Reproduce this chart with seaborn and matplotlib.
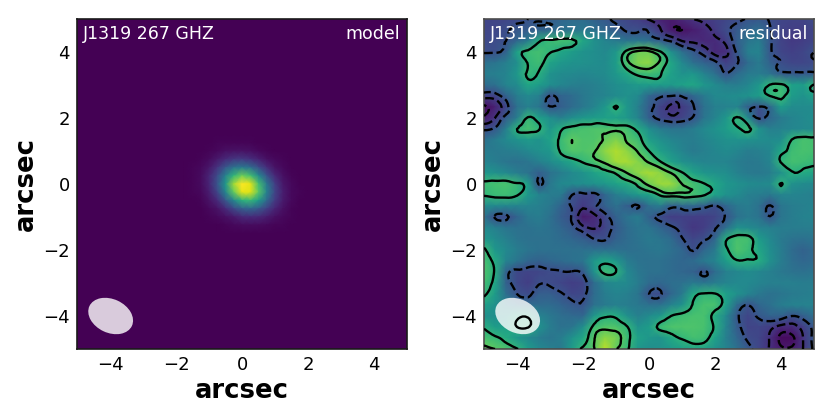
import matplotlib
matplotlib.use("Agg")
import matplotlib.pyplot as plt
from matplotlib.patches import Ellipse
from matplotlib.tri import Triangulation, UniformTriRefiner
import numpy as np
import seaborn as sns

TARGET = "J1319 267 GHZ"
TICKS = [-4, -2, 0, 2, 4]
TICK_LABELS = ["\u22124", "\u22122", "0", "2", "4"]

# model flux in percent of peak, 0.25" steps
# rows run from y=+1.25 to y=-1.25, columns from x=-1.75 to x=+1.75
MODEL_CORE = [
    [0, 0, 0, 0, 1, 1, 1, 1, 1, 0, 0, 0, 0, 0, 0],
    [0, 0, 0, 1, 2, 4, 5, 5, 4, 2, 1, 0, 0, 0, 0],
    [0, 0, 1, 3, 7, 12, 16, 17, 14, 9, 4, 2, 1, 0, 0],
    [0, 1, 2, 6, 15, 27, 38, 41, 36, 24, 13, 5, 2, 0, 0],
    [0, 1, 3, 10, 23, 44, 66, 78, 70, 48, 26, 11, 4, 1, 0],
    [0, 1, 3, 10, 26, 53, 86, 100, 96, 70, 40, 18, 6, 2, 0],
    [0, 1, 2, 8, 21, 46, 76, 96, 95, 74, 44, 20, 8, 2, 1],
    [0, 0, 1, 5, 12, 27, 46, 64, 67, 55, 34, 17, 7, 2, 0],
    [0, 0, 0, 2, 5, 12, 22, 30, 33, 28, 19, 10, 4, 1, 0],
    [0, 0, 0, 1, 2, 4, 7, 11, 12, 11, 8, 4, 2, 1, 0],
    [0, 0, 0, 0, 0, 1, 2, 3, 3, 3, 2, 1, 1, 0, 0],
]

# residual in tenths of sigma, 1/3" steps
# rows run from y=+5 to y=-5, columns from x=-5 to x=+5
RESIDUAL = [
    [-24, -25, -24, -23, -20, -18, -16, -12, -10, -10, -14, -18, -22, -24, -27, -31, -36, -38, -34, -30, -28, -26, -24, -22, -19, -18, -21, -24, -25, -25, -22],
    [-24, -24, -21, -18, -16, -14, -12, -9, -6, -5, -8, -12, -16, -21, -21, -21, -29, -38, -40, -37, -33, -28, -22, -17, -12, -9, -19, -25, -27, -27, -24],
    [-23, -22, -20, -12, -3, 18, 23, 25, 23, 14, 5, 0, -4, -6, -5, -8, -15, -21, -30, -32, -34, -33, -27, -15, -6, -3, -18, -25, -28, -27, -24],
    [-21, -21, -14, 12, 23, 25, 21, 14, 10, 6, 4, 2, 8, 24, 33, 33, 22, 5, -8, -17, -24, -34, -32, -18, -2, 0, -18, -24, -26, -24, -20],
    [-8, -6, -2, 4, 21, 24, 13, 8, 6, 5, 4, 3, 10, 27, 36, 38, 28, 14, 2, -8, -13, -17, -26, -21, -10, -4, -14, -21, -24, -24, -22],
    [-3, -2, 0, 8, 22, 18, 6, 3, 2, 1, 2, 3, 8, 15, 22, 24, 21, 12, 6, 8, 0, -8, -19, -10, -4, -3, -7, -16, -17, -17, -16],
    [-10, -8, 0, 3, 14, 10, 4, 1, -2, -3, -2, 1, 4, 6, 9, 10, 10, 9, 12, 14, 8, 3, -2, -3, 1, 8, 21, 23, 12, 10, 21],
    [-26, -25, -14, -3, 2, -2, -21, -13, -10, -5, -2, 0, 3, 5, 2, -12, -18, -20, -19, -12, -4, 2, 3, 4, 6, 10, 20, 24, 10, 6, 12],
    [-42, -36, -24, -8, -2, -6, -19, -15, -10, -5, 0, 8, 21, 8, -2, -16, -25, -31, -28, -21, -8, -2, -1, 0, -15, -21, -12, 10, 3, 3, 3],
    [-38, -30, -16, -3, 22, 12, 4, -2, 4, 8, 10, 11, 11, 8, 0, -15, -23, -27, -25, -19, -6, 0, 8, 22, 2, -22, -12, -4, 0, 2, 4],
    [-22, -18, -2, 20, 26, 21, 8, 18, 24, 26, 27, 27, 27, 25, 16, 4, -3, -6, -6, -3, 2, 6, 10, 16, 23, 6, -2, -1, 1, 2, 3],
    [-8, -3, 2, 6, 9, 6, 12, 23, 30, 27, 27, 31, 36, 29, 24, 11, 5, 1, -2, -3, 0, 3, 5, 6, 5, 4, 3, 4, 21, 26, 25],
    [-3, -4, -3, -2, 2, 5, 8, 22, 28, 27, 29, 38, 43, 38, 29, 20, 11, 5, 0, -4, -2, 1, 3, 1, -3, -2, 1, 14, 24, 26, 25],
    [0, -3, -6, -8, -6, -2, 3, 8, 14, 21, 26, 32, 41, 42, 37, 29, 21, 12, 5, 2, 0, 0, 0, -3, -5, -4, 0, 21, 25, 24, 22],
    [8, 5, 2, -3, -7, -15, -8, -3, 2, 6, 12, 17, 21, 30, 38, 42, 38, 30, 21, 13, 7, 5, 4, -1, -4, -5, -3, 5, 18, 16, 13],
    [23, 25, 26, 22, 10, -21, -5, 2, 3, 4, 6, 8, 12, 16, 22, 33, 40, 40, 30, 25, 21, 14, 8, 5, 3, 2, 3, 21, 5, 3, 2],
    [21, 23, 24, 21, 8, 0, -3, -4, -20, -24, -24, -12, -3, 2, 8, 12, 21, 25, 26, 25, 21, 12, 6, 3, -2, -3, -5, 0, 0, -1, -2],
    [3, 2, 1, 0, 0, -2, -5, -13, -21, -28, -22, -14, -8, -15, -21, -8, -3, -15, -12, -11, -15, -21, -12, -5, -3, -8, -21, -6, -3, -2, 0],
    [-8, -21, -22, -13, -5, -3, -8, -16, -21, -38, -34, -24, -14, -7, -3, -14, -22, -27, -26, -27, -27, -25, -19, -8, -4, -7, -19, -6, -3, -1, 0],
    [2, -2, -6, -8, -8, -6, -8, -12, -17, -26, -31, -25, -17, -10, -6, -6, -12, -18, -24, -29, -27, -21, -9, 5, 3, 0, -2, -3, -3, -3, -3],
    [8, 3, -2, -6, -8, -8, -8, -10, -12, -15, -20, -21, -14, -10, -7, -4, -6, -10, -19, -24, -21, -12, 18, 26, 25, 10, 2, -4, -7, -8, -6],
    [23, 8, 2, -3, -6, -8, -8, -8, -8, -8, -8, -8, -8, -9, -8, -6, -5, -8, -12, -21, -12, -4, 17, 27, 23, 14, 4, -3, -10, -14, -10],
    [26, 16, 0, -6, -12, -14, -12, -10, -8, -6, 8, 14, 8, -3, -7, -8, -8, -10, -12, -10, -4, 0, 10, 19, 19, 17, 5, -3, -9, -12, -10],
    [27, 18, -14, -23, -25, -24, -22, -21, -21, -17, 6, 24, 20, 2, -5, -8, -8, -10, -12, -14, -21, -10, -2, 1, 3, 1, -2, -5, -7, -8, -6],
    [25, 14, -14, -23, -27, -21, -22, -24, -27, -25, -10, 0, 3, 2, -3, -10, -12, -9, -8, -4, -6, -3, 0, 2, 2, 0, -2, -2, -2, -3, -3],
    [22, 10, -9, -20, -22, -15, -15, -19, -24, -23, -10, -3, 0, -2, -6, -20, -22, -12, -4, 15, 21, 21, 12, 5, 0, -5, -8, -6, -4, -3, -2],
    [12, 6, -1, -7, -10, -10, -10, -13, -17, -19, -8, -4, -2, -3, -5, -8, -8, -1, 6, 21, 26, 26, 12, -10, -20, -12, -8, -3, -1, -1, -1],
    [5, 4, 6, 15, 17, 0, -5, -9, -11, -12, 8, 18, 17, 5, -2, 3, 8, 20, 24, 26, 26, 16, 2, -18, -24, -18, -13, -14, -20, -15, -8],
    [18, 10, 11, 20, 21, 6, -3, -8, -6, 4, 23, 28, 27, 21, 6, 10, 23, 27, 27, 27, 26, 18, 0, -16, -25, -24, -27, -33, -33, -27, -17],
    [26, 22, 16, 8, 2, -3, -6, -3, 6, 14, 29, 38, 34, 24, 12, 8, 6, 15, 21, 25, 24, 12, -2, -12, -22, -24, -31, -42, -42, -30, -17],
    [32, 30, 27, 21, 10, 2, -2, -4, 10, 22, 29, 45, 31, 22, 8, 4, 5, 8, 11, 13, 12, 6, 0, -8, -17, -24, -31, -38, -38, -30, -18],
]
LEVELS = [-40, -30, -20, 20, 30]

# restoring beam: centre, full axes, tilt
BEAM_X, BEAM_Y = -3.98, -4.0
BEAM_W, BEAM_H, BEAM_TILT = 1.42, 1.02, 25


def style_panel(ax, step, tag, edge):
    # heatmap axes run in cell index, so ticks and beam get converted
    to_x = lambda v: (np.asarray(v) + 5) / step
    to_y = lambda v: (5 - np.asarray(v)) / step
    n = round(10 / step)
    ax.set_xlim(0, n)
    ax.set_ylim(n, 0)
    ax.set_xticks(to_x(TICKS), TICK_LABELS)
    ax.set_yticks(to_y(TICKS), TICK_LABELS, rotation=0)
    ax.tick_params(direction="in", bottom=True, left=True, length=5, width=1.2,
                   labelsize=13, color="k", pad=5)
    ax.set_xlabel("arcsec", fontsize=18.6, fontweight="bold", labelpad=3)
    ax.set_ylabel("arcsec", fontsize=18.6, fontweight="bold", labelpad=3)
    for spine in ax.spines.values():
        spine.set_visible(True)
        spine.set_color(edge)
        spine.set_linewidth(1.2)
    beam = Ellipse((to_x(BEAM_X), to_y(BEAM_Y)), BEAM_W / step, BEAM_H / step,
                   angle=BEAM_TILT, facecolor="white", edgecolor="none", alpha=0.8, zorder=4)
    ax.add_patch(beam)
    ax.text(0.018, 0.955, TARGET, transform=ax.transAxes, color="white", fontsize=12.5,
            ha="left", va="center", zorder=6)
    ax.text(0.98, 0.955, tag, transform=ax.transAxes, color="white", fontsize=12.5,
            ha="right", va="center", zorder=6)


def main():
    sns.set_style("white", {"text.color": "k", "axes.labelcolor": "k",
                            "xtick.color": "k", "ytick.color": "k"})
    fig = plt.figure(figsize=(8.3, 4.15), dpi=100)
    ax_model = fig.add_axes([77 / 830, 66 / 415, 330 / 830, 330 / 415])
    ax_resid = fig.add_axes([484 / 830, 66 / 415, 330 / 830, 330 / 415])

    model = np.zeros((41, 41))
    model[15:26, 13:28] = MODEL_CORE
    sns.heatmap(model, ax=ax_model, cmap="viridis", vmin=0, vmax=100, cbar=False,
                xticklabels=False, yticklabels=False, shading="gouraud")
    style_panel(ax_model, 0.25, "model", "#1a1a1a")

    resid = np.array(RESIDUAL, dtype=float)
    sns.heatmap(resid, ax=ax_resid, cmap="viridis", vmin=-45, vmax=55, cbar=False,
                xticklabels=False, yticklabels=False, shading="gouraud")
    # contour lines only: matplotlib's refiner rounds them off between the read values
    col, row = np.meshgrid(np.arange(resid.shape[1]), np.arange(resid.shape[0]))
    tri = Triangulation(col.ravel(), row.ravel())
    fine_tri, fine_val = UniformTriRefiner(tri).refine_field(resid.ravel(), subdiv=2)
    ax_resid.tricontour(fine_tri, fine_val, levels=LEVELS, colors="k", linewidths=1.7, zorder=5)
    style_panel(ax_resid, 1 / 3, "residual", "#4d4d4d")

    fig.savefig("out.png", dpi=100)


if __name__ == "__main__":
    main()
